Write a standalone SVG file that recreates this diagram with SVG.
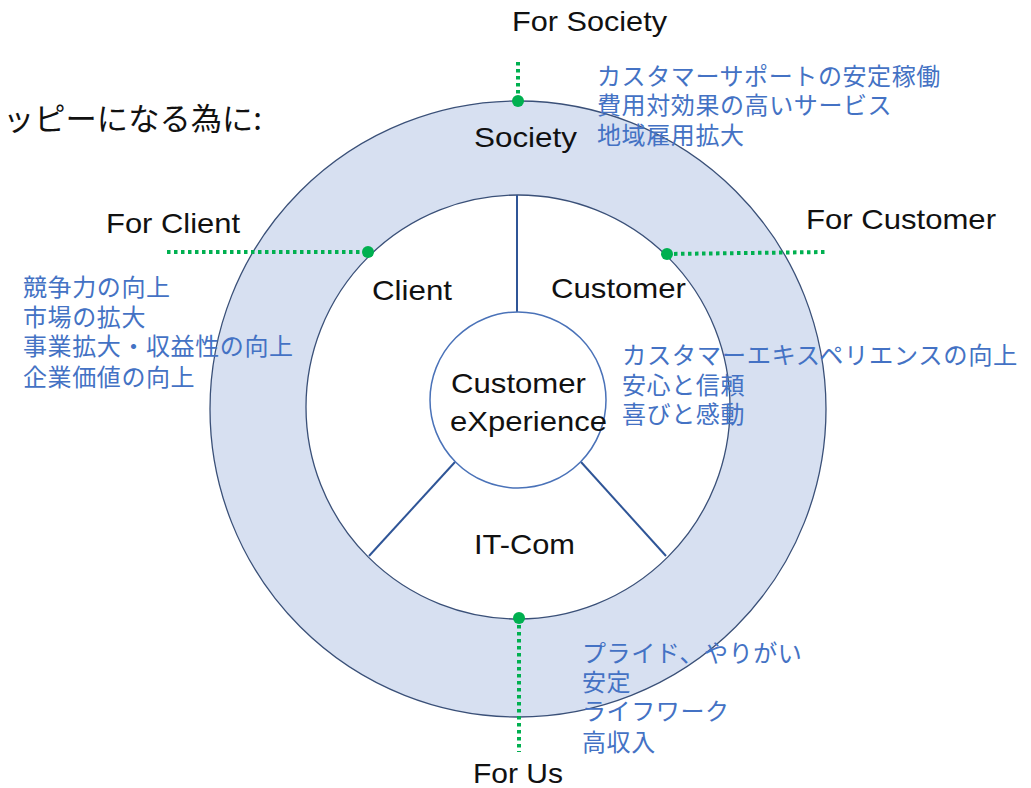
<svg xmlns="http://www.w3.org/2000/svg" width="1031" height="788" viewBox="0 0 1031 788">
<style>
.lbl{font-family:"Liberation Sans",Arial,sans-serif;font-size:28px;fill:#111;}
.jp{font-family:"Noto Sans CJK JP",sans-serif;font-size:24px;fill:#4472c4;letter-spacing:0.6px;}
.head{font-family:"Noto Sans CJK JP",sans-serif;font-size:31px;fill:#111;}
.div{stroke:#2f5597;stroke-width:2;fill:none;}
.dot{stroke:#00b050;stroke-width:4;stroke-dasharray:3.5 3.5;fill:none;}
.pt{fill:#00b050;}
</style>
<rect width="1031" height="788" fill="#ffffff"/>
<text class="head" x="3" y="130" textLength="259" lengthAdjust="spacingAndGlyphs">ッピーになる為に:</text>
<g id="society">
<circle cx="518" cy="409" r="308" fill="#d7e0f1" stroke="#3a5078" stroke-width="1.3"/>
<text class="lbl" x="474" y="147" textLength="103" lengthAdjust="spacingAndGlyphs">Society</text>
</g>
<g id="inner">
<circle cx="518" cy="407" r="212" fill="#ffffff" stroke="#3a5078" stroke-width="1.3"/>
</g>
<g id="client">
<text class="lbl" x="372" y="300" textLength="80" lengthAdjust="spacingAndGlyphs">Client</text>
</g>
<g id="customer">
<text class="lbl" x="551" y="298" textLength="135" lengthAdjust="spacingAndGlyphs">Customer</text>
</g>
<g id="itcom">
<text class="lbl" x="474" y="554" textLength="101" lengthAdjust="spacingAndGlyphs">IT-Com</text>
</g>
<g id="connectors">
<line class="div" x1="517" y1="195" x2="517" y2="312"/>
<line class="div" x1="455" y1="462" x2="369" y2="556"/>
<line class="div" x1="581" y1="462" x2="666" y2="556"/>
<line class="dot" x1="518" y1="62" x2="518" y2="101"/>
<line class="dot" x1="167" y1="252" x2="368" y2="252"/>
<line class="dot" x1="667" y1="254" x2="826" y2="252"/>
<line class="dot" x1="519" y1="618" x2="519" y2="752"/>
<circle class="pt" cx="518" cy="101" r="6"/>
<circle class="pt" cx="368" cy="252" r="6"/>
<circle class="pt" cx="667" cy="254" r="6"/>
<circle class="pt" cx="519" cy="618" r="6"/>
</g>
<g id="cx">
<circle cx="518" cy="400" r="88" fill="#ffffff" stroke="#4a72b8" stroke-width="1.5"/>
<text class="lbl" x="451" y="393" textLength="135" lengthAdjust="spacingAndGlyphs">Customer</text>
<text class="lbl" x="450" y="431" textLength="157" lengthAdjust="spacingAndGlyphs">eXperience</text>
</g>
<g id="for-society">
<text class="lbl" x="512" y="31" textLength="155" lengthAdjust="spacingAndGlyphs">For Society</text>
<text class="jp" x="597" y="85">カスタマーサポートの安定稼働</text>
<text class="jp" x="597" y="114">費用対効果の高いサービス</text>
<text class="jp" x="597" y="144">地域雇用拡大</text>
</g>
<g id="for-client">
<text class="lbl" x="106" y="233" textLength="134" lengthAdjust="spacingAndGlyphs">For Client</text>
<text class="jp" x="23" y="296">競争力の向上</text>
<text class="jp" x="23" y="326">市場の拡大</text>
<text class="jp" x="23" y="355">事業拡大・収益性の向上</text>
<text class="jp" x="23" y="386">企業価値の向上</text>
</g>
<g id="for-customer">
<text class="lbl" x="806" y="229" textLength="190" lengthAdjust="spacingAndGlyphs">For Customer</text>
<text class="jp" x="622" y="364" textLength="396" lengthAdjust="spacingAndGlyphs">カスタマーエキスペリエンスの向上</text>
<text class="jp" x="622" y="394">安心と信頼</text>
<text class="jp" x="622" y="423">喜びと感動</text>
</g>
<g id="for-us">
<text class="lbl" x="473" y="783" textLength="90" lengthAdjust="spacingAndGlyphs">For Us</text>
<text class="jp" x="582" y="662">プライド、やりがい</text>
<text class="jp" x="582" y="691">安定</text>
<text class="jp" x="582" y="720">ライフワーク</text>
<text class="jp" x="582" y="751">高収入</text>
</g>
</svg>
